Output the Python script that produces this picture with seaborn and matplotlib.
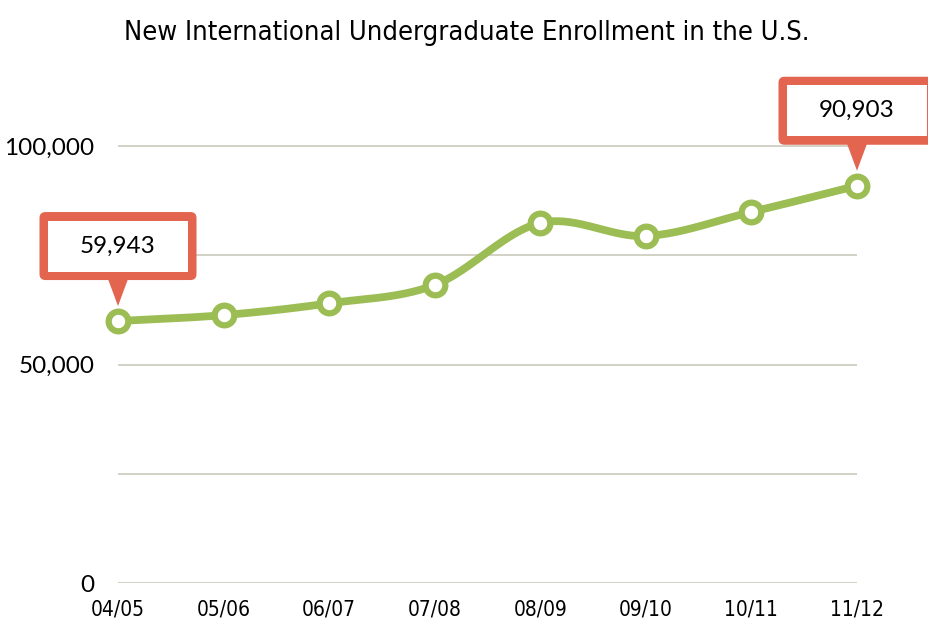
import numpy as np
import pandas as pd
import matplotlib
matplotlib.use("Agg")
import matplotlib.pyplot as plt
import matplotlib.transforms as mtransforms
from matplotlib.patches import FancyBboxPatch, Rectangle, Polygon
from matplotlib.font_manager import FontProperties
import seaborn as sns

years = ["04/05", "05/06", "06/07", "07/08", "08/09", "09/10", "10/11", "11/12"]
enrollment = [59943, 61300, 64000, 68200, 82400, 79400, 84900, 90903]
y_ticks = [0, 50000, 100000]
grid_vals = [0, 25000, 50000, 75000, 100000]
callouts = [(0, "59,943"), (7, "90,903")]

GREEN = "#9bbd54"
RED = "#e3654f"
GRID = "#c9c9bb"

sns.set_theme(style="white")
plt.rcParams["font.family"] = ["Lato", "DejaVu Sans"]

cond_tick = FontProperties(family="DejaVu Sans", stretch="condensed", size=15)
cond_title = FontProperties(family="DejaVu Sans", stretch="condensed", size=19.5)

W, H = 929, 622
fig = plt.figure(figsize=(W / 100, H / 100), dpi=100)
ax = fig.add_axes([118 / W, (H - 583) / H, (857 - 118) / W, (583 - 58.6) / H])
ax.set_xlim(0, 7)
ax.set_ylim(0, 120000)

for g in grid_vals:
    ax.axhline(g, color=GRID, lw=1.2, zorder=1)

# smooth spline through the data (cubic Hermite, Catmull-Rom tangents)
xi = np.arange(len(enrollment), dtype=float)
yi = np.array(enrollment, dtype=float)
m = np.zeros_like(yi)
m[1:-1] = (yi[2:] - yi[:-2]) / 2
m[0] = yi[1] - yi[0]
m[-1] = yi[-1] - yi[-2]
xs, ys = [], []
for i in range(len(xi) - 1):
    t = np.linspace(0, 1, 40)
    h00 = 2 * t**3 - 3 * t**2 + 1
    h10 = t**3 - 2 * t**2 + t
    h01 = -2 * t**3 + 3 * t**2
    h11 = t**3 - t**2
    xs.extend(xi[i] + t)
    ys.extend(h00 * yi[i] + h10 * m[i] + h01 * yi[i + 1] + h11 * m[i + 1])
curve = pd.DataFrame({"x": xs, "y": ys})
pts = pd.DataFrame({"x": xi, "y": yi})

sns.lineplot(data=curve, x="x", y="y", ax=ax, color=GREEN, lw=5.6,
             zorder=3, clip_on=False, solid_capstyle="round")
sns.scatterplot(data=pts, x="x", y="y", ax=ax, s=200, color="white",
                edgecolor=GREEN, linewidth=4.5, zorder=4, clip_on=False)

ax.set_xticks(xi)
ax.set_xticklabels(years, fontproperties=cond_tick)
ax.set_yticks(y_ticks)
ax.set_yticklabels([f"{v:,}" for v in y_ticks], fontsize=17.5)
ax.tick_params(axis="both", length=0, colors="black")
ax.tick_params(axis="x", pad=12)
ax.tick_params(axis="y", pad=17)
ax.set_xlabel("")
ax.set_ylabel("")
for s in ax.spines.values():
    s.set_visible(False)

# callouts (sizes in inches, offsets relative to data point)
for idx, label in callouts:
    tr = fig.dpi_scale_trans + mtransforms.ScaledTranslation(idx, enrollment[idx], ax.transData)
    bw, bh = 1.57, 0.68
    by = 0.41
    outer = FancyBboxPatch((-bw / 2, by), bw, bh, boxstyle="round,pad=0,rounding_size=0.06",
                           transform=tr, facecolor=RED, edgecolor="none", zorder=6, clip_on=False)
    inner = Rectangle((-bw / 2 + 0.085, by + 0.085), bw - 0.17, bh - 0.17, transform=tr,
                      facecolor="white", edgecolor="none", zorder=7, clip_on=False)
    tri = Polygon([(-0.1, by + 0.01), (0.1, by + 0.01), (0, 0.15)], closed=True, transform=tr,
                  facecolor=RED, edgecolor="none", zorder=6, clip_on=False)
    for p in (outer, inner, tri):
        ax.add_patch(p)
    ax.text(0, by + bh / 2, label, transform=tr, ha="center", va="center",
            fontsize=17.5, color="black", zorder=8)

fig.text(467 / W, 1 - 33 / H, "New International Undergraduate Enrollment in the U.S.",
         ha="center", va="center", fontproperties=cond_title, color="black")

fig.savefig("out.png", dpi=100)
